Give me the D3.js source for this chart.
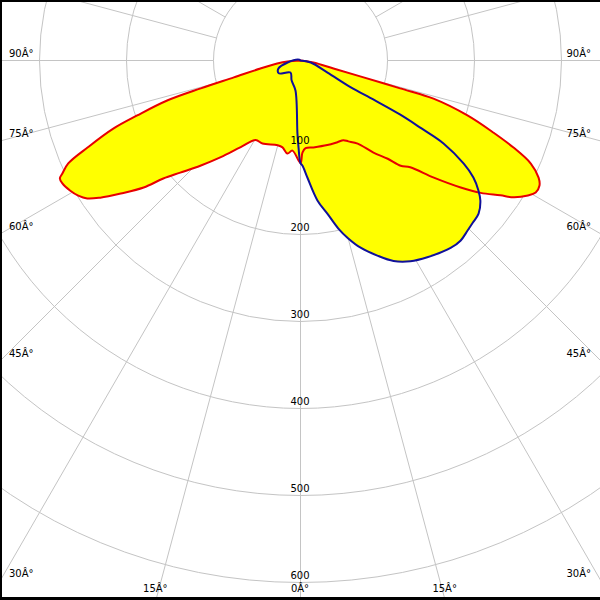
<!DOCTYPE html>
<html><head><meta charset="utf-8">
<script src="https://cdn.jsdelivr.net/npm/d3@7"></script>
<style>body{margin:0;background:#fff}svg{display:block}</style>
</head><body>
<svg id="c" width="600" height="600"></svg>
<script>
// Ring (radial) tick values in cd/klm
const ringValues = [100, 200, 300, 400, 500, 600];
// Angular tick labels (text as in reference)
const leftAngleLabels = ["90Â°", "75Â°", "60Â°", "45Â°", "30Â°"];
const leftAngleValues = [90, 75, 60, 45, 30];
const bottomAngleLabels = ["15Â°", "0Â°", "15Â°"];
const bottomAngleValues = [-15, 0, 15];

// C0-C180 plane (red) : gamma angle from nadir (deg, + to the right) and intensity
const redAngles = [-90, -85.6, -82.6, -78.7, -75.8, -74.4, -73.3, -71.4, -70, -67.8, -66.1, -64.6, -63.9, -62.7, -60.5, -58.7, -57.1, -55.6, -53.5, -51, -49.3, -47, -43.6, -39.5, -34.6, -29.4, -24.6, -15.1, -11.7, -8, -5.1, 0, 1.2, 3.3, 8.5, 17.6, 24.3, 28.3, 30.6, 34.5, 38.4, 41.6, 43.6, 45.8, 48.7, 51.6, 53.7, 56, 57.3, 59.3, 60.7, 62.4, 63.8, 65.9, 67.8, 69.5, 71.8, 74.0, 74.4, 75.1, 76.4, 81, 90];
const redValues = [0, 15, 27, 47, 79, 119, 160, 198, 229, 264, 292, 303, 308, 308, 304, 299, 292, 279, 257, 232, 208, 189, 167, 144, 121, 105, 105, 101, 102, 108, 104, 118, 106, 101, 101, 102, 103, 104, 108, 116, 135, 151, 167, 176, 204, 235, 257, 277, 291, 304, 310, 310, 305, 290, 264, 237, 202, 159, 119, 71, 39, 15, 0];

// C90-C270 plane (blue)
const blueAngles = [-180, -116, -81.3, -70, -59.4, -39.8, -24.2, -9.5, -2.4, -1.3, 0, 1.1, 3.4, 6.9, 10, 12.7, 14.9, 17.8, 21.5, 24.9, 28.7, 32.8, 38.7, 41.6, 44.5, 46.7, 49.3, 52.1, 53.9, 55.9, 57.7, 59.9, 60.7, 61.5, 61.8, 62.0, 66, 78.7, 90, 180];
const blueValues = [0, 2.5, 15, 27, 29, 18, 25, 35, 84, 100, 118, 121, 135, 162, 179, 198, 211, 226, 241, 254, 263, 269, 276, 277, 274, 272, 270, 262, 253, 240, 222, 190, 159, 130, 96, 65, 34, 12, 0, 0];

const W = 600, H = 600;
const cx = 300.5, cy = 60.5;
const svg = d3.select("#c");
const r = d3.scaleLinear().domain([0, 600]).range([0, 522]);
const toRad = g => Math.PI - g * Math.PI / 180; // nadir = down

const gridColor = "#c4c4c4";
const g = svg.append("g").attr("transform", `translate(${cx},${cy})`);

// rings
g.selectAll("circle.ring").data(ringValues).enter().append("circle")
  .attr("r", d => r(d)).attr("fill", "none").attr("stroke", gridColor).attr("stroke-width", 1);

// spokes every 15 degrees, starting at ring 100
const spokes = d3.range(0, 360, 15);
g.selectAll("line.spoke").data(spokes).enter().append("line")
  .attr("x1", d => r(100) * Math.sin(d * Math.PI / 180))
  .attr("y1", d => r(100) * Math.cos(d * Math.PI / 180))
  .attr("x2", d => r(800) * Math.sin(d * Math.PI / 180))
  .attr("y2", d => r(800) * Math.cos(d * Math.PI / 180))
  .attr("stroke", gridColor).attr("stroke-width", 1);

// curves
const mk = (angles, values) => angles.map((a, i) => [toRad(a), r(values[i])]);
const line = d3.lineRadial().angle(d => d[0]).radius(d => d[1]).curve(d3.curveCatmullRomClosed.alpha(0.5));
const redPts = mk(redAngles, redValues);
const bluePts = mk(blueAngles, blueValues);

g.append("path").attr("d", line(redPts)).attr("fill", "#ffff00").attr("stroke", "none");
g.append("path").attr("d", line(bluePts)).attr("fill", "#ffff00").attr("stroke", "none");
g.append("path").attr("d", line(redPts)).attr("fill", "none").attr("stroke", "#e80000").attr("stroke-width", 2).attr("stroke-linejoin", "round");
g.append("path").attr("d", line(bluePts)).attr("fill", "none").attr("stroke", "#10109a").attr("stroke-width", 2).attr("stroke-linejoin", "round");

// ring labels
const font = "DejaVu Sans";
svg.selectAll("text.ring").data(ringValues).enter().append("text")
  .attr("x", 300).attr("y", d => 60 + r(d) - 3)
  .attr("text-anchor", "middle").attr("font-family", font).attr("font-size", 10).attr("fill", "#000")
  .text(d => d);

// side angle labels
leftAngleValues.forEach((a, i) => {
  const y = 60 + 300 / Math.tan(a * Math.PI / 180);
  svg.append("text").attr("x", 9).attr("y", y - 3).attr("font-family", font).attr("font-size", 10).text(leftAngleLabels[i]);
  svg.append("text").attr("x", 591).attr("y", y - 3).attr("text-anchor", "end").attr("font-family", font).attr("font-size", 10).text(leftAngleLabels[i]);
});
// bottom angle labels
bottomAngleValues.forEach((a, i) => {
  const x = 300 + 540 * Math.tan(a * Math.PI / 180);
  svg.append("text").attr("x", x).attr("y", 592).attr("text-anchor", "middle").attr("font-family", font).attr("font-size", 10).text(bottomAngleLabels[i]);
});

// frame
svg.append("rect").attr("x", 0).attr("y", 0).attr("width", W).attr("height", 2).attr("fill", "#000");
svg.append("rect").attr("x", 0).attr("y", 0).attr("width", 2).attr("height", H).attr("fill", "#000");
svg.append("rect").attr("x", 0).attr("y", H - 3).attr("width", W).attr("height", 3).attr("fill", "#000");
</script>
</body></html>
